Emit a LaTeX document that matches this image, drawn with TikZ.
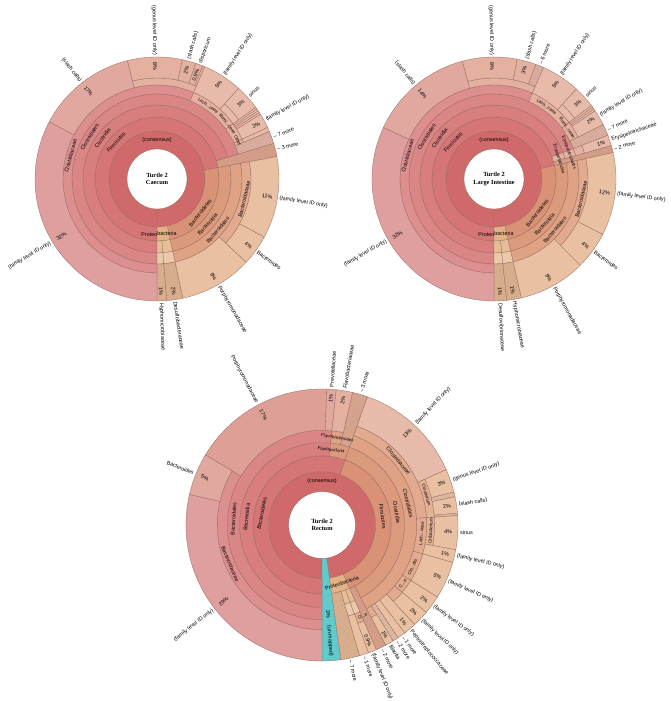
\documentclass[tikz,border=0pt]{standalone}
\usepackage{fontspec}
\setsansfont{Liberation Sans}
\newfontfamily\titelfont{Liberation Serif}
\usepackage{xcolor}
\usepackage{tikz}
\usetikzlibrary{patterns.meta}

\definecolor{kKonsens}{RGB}{208,106,106}
\definecolor{kRot1}{RGB}{213,117,117}
\definecolor{kRot2}{RGB}{216,126,126}
\definecolor{kRot3}{RGB}{219,134,134}
\definecolor{kRot4}{RGB}{221,142,142}
\definecolor{kRosa}{RGB}{223,159,159}
\definecolor{kAltrosa}{RGB}{225,168,160}
\definecolor{kLachs}{RGB}{228,176,160}
\definecolor{kPfirsich}{RGB}{231,186,170}
\definecolor{kBraun1}{RGB}{217,146,118}
\definecolor{kBraun2}{RGB}{220,154,125}
\definecolor{kBraun3}{RGB}{223,162,133}
\definecolor{kBraun4}{RGB}{226,170,142}
\definecolor{kSand}{RGB}{233,192,162}
\definecolor{kOcker}{RGB}{226,178,132}
\definecolor{kPorph}{RGB}{222,160,150}
\definecolor{kTuerkis}{RGB}{96,202,204}
\definecolor{kLinie}{RGB}{150,105,95}

%Radien der Ringe
\def\bLoch{30}
\def\bKons{48}
\def\bStamm{62}
\def\bKlasse{74}
\def\bOrdn{85}
\def\bFam{94}
\def\bGatt{101}
\def\bAus{122}
\def\rPz{117}
\def\rNm{124}

\newcount\nLab

\tikzset{
  Rand/.style={draw=kLinie, line width=0.3pt}, % Umrandung der Sektoren
  Schraffur/.style={preaction={fill=#1}, pattern={Hatch[angle=45,distance=2.4pt,line width=.25pt]}, pattern color=kLinie!60}, % für zusammengefasste Sektoren
  Rang/.style={font=\sffamily\fontsize{5.4}{6}\selectfont, inner sep=0pt}, % Ringbeschriftung
  klein/.style={font=\sffamily\fontsize{4.5}{5}\selectfont}, % für enge Ringe
  Blatt/.style={font=\sffamily\fontsize{5.4}{6}\selectfont, inner sep=0pt}, % äußere Beschriftung
  Titel/.style={font=\titelfont\bfseries\fontsize{6.3}{7.5}\selectfont, align=center}
}

\newcommand{\Sektor}[5][fill=white]{% [Stil]{r innen}{r aussen}{von}{bis}
  \path[Rand,#1] (#4:#2) arc[start angle=#4, end angle=#5, radius=#2]
    -- (#5:#3) arc[start angle=#5, end angle=#4, radius=#3] -- cycle;}

\newcommand{\Rang}[4][]{% [Stil]{Winkel}{Radius}{Text}
  \global\advance\nLab by 1
  \pgfmathsetmacro{\sw}{sin(#2)}%
  \ifdim\sw pt<0pt \pgfmathsetmacro{\dw}{#2+90}\else\pgfmathsetmacro{\dw}{#2-90}\fi
  \node[Rang, #1, rotate=\dw] (r\the\nLab) at (#2:#3) {#4};}

\newcommand{\Blatt}[3]{% Winkel, Prozent, Name
  \global\advance\nLab by 1
  \pgfmathsetmacro{\cw}{cos(#1)}%
  \ifdim\cw pt<0pt
    \pgfmathsetmacro{\dw}{#1+180}%
    \node[Blatt, anchor=east, rotate=\dw] (n\the\nLab) at (#1:\rNm) {#3};
    \if\relax\detokenize{#2}\relax\else
      \node[Blatt, anchor=west, rotate=\dw] (p\the\nLab) at (#1:\rPz) {#2};\fi
  \else
    \node[Blatt, anchor=west, rotate=#1] (n\the\nLab) at (#1:\rNm) {#3};
    \if\relax\detokenize{#2}\relax\else
      \node[Blatt, anchor=east, rotate=#1] (p\the\nLab) at (#1:\rPz) {#2};\fi
  \fi}

\begin{document}
\begin{tikzpicture}[
x=1pt, y=1pt, % 1 Einheit = 1 Pixel
font=\sffamily
]
\fill[white] (0,0) rectangle (671,701);
\useasboundingbox (0,0) rectangle (671,701);

%Caecum
\begin{scope}[shift={(157,522)}]
%Kern
\Sektor[fill=kKonsens]{\bLoch}{\bKons}{-90}{270}
%Stamm
\Sektor[fill=kRot1]{\bKons}{\bStamm}{10.6}{270}
\Sektor[fill=kBraun1]{\bKons}{\bStamm}{-77.7}{10.6}
\Sektor[fill=kOcker]{\bKons}{\bStamm}{-90}{-77.7}
%Klasse
\Sektor[fill=kRot2]{\bStamm}{\bKlasse}{17}{270}
\Sektor[Schraffur=kBraun2]{\bStamm}{\bAus}{10.6}{17}
\Sektor[fill=kBraun2]{\bStamm}{\bKlasse}{-77.7}{10.6}
%Ordnung
\Sektor[fill=kRot3]{\bKlasse}{\bOrdn}{17}{270}
\Sektor[fill=kBraun3]{\bKlasse}{\bOrdn}{-77.7}{10.6}
\foreach \von/\bis in {-90/-85.4,-85.4/-77.7}{
  \Sektor[fill=kOcker!85]{\bStamm}{\bKlasse}{\von}{\bis}
  \Sektor[fill=kOcker!70]{\bKlasse}{\bOrdn}{\von}{\bis}
  \Sektor[Schraffur=kOcker]{\bOrdn}{\bAus}{\von}{\bis}}
%Familie
\Sektor[fill=kRot4]{\bOrdn}{\bFam}{67}{270}
\foreach \von/\bis in {36/67,25/36,23/25}
  {\Sektor[fill=kLachs]{\bOrdn}{\bFam}{\von}{\bis}}
\Sektor[Schraffur=kLachs]{\bOrdn}{\bAus}{17}{23}
\Sektor[fill=kBraun4]{\bOrdn}{\bFam}{-43}{10.6}
\Sektor[fill=kSand]{\bOrdn}{\bAus}{-77.7}{-43}
%Gattung und Blaetter
\Sektor[fill=kRosa]{\bFam}{\bAus}{152}{270}
\Sektor[fill=kAltrosa]{\bFam}{\bAus}{104}{152}
\Sektor[fill=kLachs]{\bFam}{\bGatt}{67}{104}
\foreach \von/\bis in {78/104,71.5/78,68/71.5,67/68}
  {\Sektor[fill=kLachs]{\bGatt}{\bAus}{\von}{\bis}}
\Sektor[fill=kPfirsich]{\bFam}{\bAus}{48}{67}
\Sektor[fill=kPfirsich]{\bFam}{\bGatt}{36}{48}
\Sektor[fill=kPfirsich]{\bGatt}{\bAus}{36}{48}
\foreach \von/\bis in {35/36,34/35,33/34,32/33,25/32,23/25}
  {\Sektor[fill=kPfirsich]{\bFam}{\bAus}{\von}{\bis}}
\Sektor[fill=kSand]{\bFam}{\bAus}{-28.5}{10.6}
\Sektor[fill=kSand]{\bFam}{\bAus}{-43}{-28.5}
%Beschriftung
\node[Titel] (titelA) at (0,0) {Turtle 2\\Caecum};
\Rang{90}{39}{(consensus)}
\Rang{138}{55}{Firmicutes}
\Rang{143}{68}{Clostridia}
\Rang{148}{79.5}{Clostridiales}
\Rang{165}{89.5}{Clostridiaceae}
\Rang[klein]{55}{89.5}{Lach...ceae}
\Rang[klein]{38}{89.5}{Rumi...ceae}
\Rang[klein]{25.5}{89.5}{Other}
\Rang{-88}{55}{Proteobacteria}
\Rang{-38}{55}{Bacteroidetes}
\Rang{-42}{68}{Bacteroidia}
\Rang{-40}{79.5}{Bacteroidales}
\Rang{-13}{89.5}{Bacteroidaceae}
\Blatt{211}{32\%}{(family level ID only)}
\Blatt{128}{17\%}{(slash calls)}
\Blatt{91}{8\%}{(genus level ID only)}
\Blatt{75}{2\%}{(slash calls)}
\Blatt{69.5}{0.9\%}{disporicum}
\Blatt{57}{5\%}{(family level ID only)}
\Blatt{42}{3\%}{sinus}
\Blatt{28.5}{2\%}{(family level ID only)}
\Blatt{20}{}{-- 7 more}
\Blatt{14}{}{-- 3 more}
\Blatt{-9}{11\%}{(family level ID only)}
\Blatt{-36}{4\%}{Bacteroides}
\Blatt{-60}{9\%}{Porphyromonadaceae}
\Blatt{-88}{1\%}{Hyphomicrobiaceae}
\Blatt{-81.5}{2\%}{Desulfobacteraceae}
\end{scope}

%Dickdarm
\begin{scope}[shift={(494,522)}]
%Kern
\Sektor[fill=kKonsens]{\bLoch}{\bKons}{-90}{270}
%Stamm
\Sektor[fill=kRot1]{\bKons}{\bStamm}{12.5}{270}
\Sektor[fill=kBraun1]{\bKons}{\bStamm}{-77}{12.5}
\Sektor[fill=kOcker]{\bKons}{\bStamm}{-90}{-77}
%Klasse
\Sektor[fill=kRot2]{\bStamm}{\bKlasse}{21}{270}
\Sektor[fill=kLachs]{\bStamm}{\bKlasse}{16}{21}
\Sektor[Schraffur=kBraun2]{\bStamm}{\bAus}{12.5}{16}
\Sektor[fill=kBraun2]{\bStamm}{\bKlasse}{-77}{12.5}
%Ordnung
\Sektor[fill=kRot3]{\bKlasse}{\bOrdn}{21}{270}
\Sektor[fill=kLachs]{\bKlasse}{\bOrdn}{16}{21}
\Sektor[fill=kBraun3]{\bKlasse}{\bOrdn}{-77}{12.5}
\foreach \von/\bis in {-90/-84,-84/-77}{
  \Sektor[fill=kOcker!85]{\bStamm}{\bKlasse}{\von}{\bis}
  \Sektor[fill=kOcker!70]{\bKlasse}{\bOrdn}{\von}{\bis}
  \Sektor[Schraffur=kOcker]{\bOrdn}{\bAus}{\von}{\bis}}
%Familie
\Sektor[fill=kRot4]{\bOrdn}{\bFam}{66}{270}
\foreach \von/\bis in {37/66,26.5/37,16/21}
  {\Sektor[fill=kLachs]{\bOrdn}{\bFam}{\von}{\bis}}
\Sektor[Schraffur=kLachs]{\bOrdn}{\bAus}{21}{26.5}
\Sektor[fill=kBraun4]{\bOrdn}{\bFam}{-45}{12.5}
\Sektor[fill=kSand]{\bOrdn}{\bAus}{-77}{-45}
%Gattung und Blaetter
\Sektor[fill=kRosa]{\bFam}{\bAus}{155}{270}
\Sektor[fill=kAltrosa]{\bFam}{\bAus}{105}{155}
\Sektor[fill=kLachs]{\bFam}{\bGatt}{66}{105}
\Sektor[fill=kLachs]{\bGatt}{\bAus}{79}{105}
\Sektor[fill=kLachs]{\bGatt}{\bAus}{70}{79}
\Sektor[Schraffur=kLachs]{\bGatt}{\bAus}{66}{70}
\Sektor[fill=kPfirsich]{\bFam}{\bAus}{47.5}{66}
\Sektor[fill=kPfirsich]{\bFam}{\bGatt}{37}{47.5}
\Sektor[fill=kPfirsich]{\bGatt}{\bAus}{37}{47.5}
\foreach \von/\bis in {36/37,35/36,34/35,26.5/34,16/21}
  {\Sektor[fill=kPfirsich]{\bFam}{\bAus}{\von}{\bis}}
\Sektor[fill=kSand]{\bFam}{\bAus}{-27}{12.5}
\Sektor[fill=kSand]{\bFam}{\bAus}{-45}{-27}
%Beschriftung
\node[Titel] (titelB) at (0,0) {Turtle 2\\Large Intestine};
\Rang{90}{39}{(consensus)}
\Rang{138}{55}{Firmicutes}
\Rang{143}{68}{Clostridia}
\Rang{148}{79.5}{Clostridiales}
\Rang{165}{89.5}{Clostridiaceae}
\Rang[klein]{54}{89.5}{Lach...ceae}
\Rang[klein]{35}{89.5}{Rumi...ceae}
\Rang[klein]{17}{68}{Erysipelotrichia}
\Rang[klein]{19.5}{79.5}{Erysipelotrichales}
\Rang{-88}{55}{Proteobacteria}
\Rang{-38}{55}{Bacteroidetes}
\Rang{-42}{68}{Bacteroidia}
\Rang{-40}{79.5}{Bacteroidales}
\Rang{-13}{89.5}{Bacteroidaceae}
\Blatt{210}{32\%}{(family level ID only)}
\Blatt{130}{14\%}{(slash calls)}
\Blatt{91}{8\%}{(genus level ID only)}
\Blatt{74.5}{3\%}{(slash calls)}
\Blatt{68}{}{-- 6 more}
\Blatt{57}{5\%}{(family level ID only)}
\Blatt{42}{3\%}{sinus}
\Blatt{31}{2\%}{(family level ID only)}
\Blatt{23.5}{}{-- 7 more}
\Blatt{18.5}{1\%}{Erysipelotrichaceae}
\Blatt{14.3}{}{-- 2 more}
\Blatt{-7}{12\%}{(family level ID only)}
\Blatt{-36}{4\%}{Bacteroides}
\Blatt{-61}{9\%}{Porphyromonadaceae}
\Blatt{-87}{1\%}{Desulfovibrionaceae}
\Blatt{-80.5}{1\%}{Hyphomicrobiaceae}
\end{scope}

%Rektum
\begin{scope}[shift={(322,176)}, scale=1.115]
%Kern
\Sektor[fill=kKonsens]{\bLoch}{\bKons}{-82}{270}
\Sektor[fill=kTuerkis]{\bLoch}{\bAus}{-90}{-82}
%Stamm
\Sektor[fill=kRot1]{\bKons}{\bStamm}{70.5}{270}
\Sektor[fill=kBraun1]{\bKons}{\bStamm}{-66.5}{70.5}
\Sektor[fill=kOcker]{\bKons}{\bStamm}{-82}{-66.5}
%Klasse
\Sektor[fill=kRot2]{\bStamm}{\bKlasse}{84}{270}
\Sektor[fill=kBraun2]{\bStamm}{\bKlasse}{70.5}{84}
\Sektor[fill=kBraun2]{\bStamm}{\bKlasse}{-62}{70.5}
\Sektor[Schraffur=kBraun2]{\bStamm}{\bAus}{-66.5}{-62}
\Sektor[Schraffur=kOcker]{\bStamm}{\bAus}{-82}{-74}
%Ordnung
\Sektor[fill=kRot3]{\bKlasse}{\bOrdn}{84}{270}
\Sektor[fill=kBraun3]{\bKlasse}{\bOrdn}{77}{84}
\Sektor[Schraffur=kBraun3]{\bKlasse}{\bAus}{70.5}{77}
\Sektor[fill=kBraun3]{\bKlasse}{\bOrdn}{-62}{70.5}
\foreach \von/\bis in {-74/-70,-70/-66.5}{
  \Sektor[fill=kOcker!85]{\bStamm}{\bKlasse}{\von}{\bis}
  \Sektor[fill=kOcker!70]{\bKlasse}{\bOrdn}{\von}{\bis}}
%Familie
\Sektor[fill=kRot4]{\bOrdn}{\bFam}{149}{270}
\Sektor[fill=kPorph]{\bOrdn}{\bAus}{88}{149}
\Sektor[fill=kAltrosa]{\bOrdn}{\bAus}{84}{88}
\Sektor[fill=kLachs]{\bOrdn}{\bAus}{77}{84}
\foreach \von/\bis in {4/70.5,-16/4,-32/-16,-40/-32,-47/-40,-62/-58.5,-70/-66.5}
  {\Sektor[fill=kBraun4]{\bOrdn}{\bFam}{\von}{\bis}}
\foreach \von/\bis in {-52.5/-47,-56/-52.5,-74/-70}
  {\Sektor[fill=kSand]{\bOrdn}{\bAus}{\von}{\bis}}
\Sektor[Schraffur=kSand]{\bOrdn}{\bAus}{-58.5}{-56}
%Gattung und Blaetter
\Sektor[fill=kRosa]{\bFam}{\bAus}{167}{270}
\Sektor[fill=kAltrosa]{\bFam}{\bAus}{149}{167}
\Sektor[fill=kPfirsich]{\bFam}{\bAus}{24}{70.5}
\Sektor[fill=kBraun4!70!kSand]{\bFam}{\bGatt}{4}{24}
\Sektor[fill=kSand]{\bGatt}{\bAus}{14}{24}
\Sektor[Schraffur=kSand]{\bGatt}{\bAus}{12}{14}
\Sektor[fill=kSand]{\bGatt}{\bAus}{5}{12}
\Sektor[Schraffur=kSand]{\bGatt}{\bAus}{4}{5}
\Sektor[fill=kBraun4!70!kSand]{\bFam}{\bGatt}{-10.5}{4}
\Sektor[fill=kSand]{\bGatt}{\bAus}{-10.5}{4}
\foreach \von/\bis in {-16/-10.5,-32/-16,-40/-32,-47/-40,-62/-58.5,-70/-66.5}
  {\Sektor[fill=kSand]{\bFam}{\bAus}{\von}{\bis}}
%Beschriftung
\node[Titel] (titelC) at (0,0) {Turtle 2\\Rectum};
\Rang{90}{39}{(consensus)}
\Rang{169}{55}{Bacteroidetes}
\Rang{174}{68}{Bacteroidia}
\Rang{176}{79.5}{Bacteroidales}
\Rang{203}{89.5}{Bacteroidaceae}
\Rang[klein]{83}{68}{Flavobacteria}
\Rang[klein]{80}{79.5}{Flavobacteriales}
\Rang{8}{55}{Firmicutes}
\Rang{10}{68}{Clostridia}
\Rang{14}{79.5}{Clostridiales}
\Rang{40}{89.5}{Clostridiaceae}
\Rang[klein]{16}{97.5}{Clostridium}
\Rang[klein]{-5}{89.5}{Lach...ceae}
\Rang[klein]{-3}{97.5}{Oribacterium}
\Rang[klein]{-25}{89.5}{Clo...dia}
\Rang[klein]{-36}{89.5}{C...e}
\Rang[klein]{-66}{89.5}{O...e}
\Rang{-71}{55}{Proteobacteria}
\node[Blatt, rotate=-86] (unmA) at (-86:80) {3\%};
\node[Blatt, rotate=-86] (unmB) at (-86:104) {(un-mapped)};
\Blatt{218}{29\%}{(family level ID only)}
\Blatt{158}{5\%}{Bacteroides}
\Blatt{118}{17\%}{Porphyromonadaceae}
\Blatt{86}{1\%}{Prevotellaceae}
\Blatt{80.5}{2\%}{Flavobacteriaceae}
\Blatt{73.5}{}{-- 3 more}
\Blatt{47}{13\%}{(family level ID only)}
\Blatt{19}{3\%}{(genus level ID only)}
\Blatt{8.5}{2\%}{(slash calls)}
\Blatt{-3}{4\%}{sinus}
\Blatt{-13}{1\%}{(family level ID only)}
\Blatt{-24}{5\%}{(family level ID only)}
\Blatt{-36}{2\%}{(family level ID only)}
\Blatt{-43.5}{2\%}{(family level ID only)}
\Blatt{-50}{1\%}{Peptostreptococcaceae}
\Blatt{-54}{}{-- 1 more}
\Blatt{-57}{}{-- 2 more}
\Blatt{-60.2}{1\%}{Blautia}
\Blatt{-64}{}{-- 2 more}
\Blatt{-68.3}{0.9\%}{(family level ID only)}
\Blatt{-72}{}{-- 1 more}
\Blatt{-78}{}{-- 7 more}
\end{scope}
\end{tikzpicture}
\end{document}
